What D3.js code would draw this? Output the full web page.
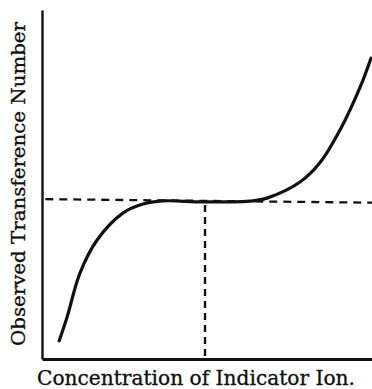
<!DOCTYPE html>
<html>
<head>
<meta charset="utf-8">
<script src="https://cdn.jsdelivr.net/npm/d3@7"></script>
<style>
  html, body { margin: 0; padding: 0; background: #fff; }
  svg { display: block; }
</style>
</head>
<body>
<svg id="chart" width="372" height="389"></svg>
<script>
// Observed transference number vs. concentration of indicator ion (schematic units)
const concentration = [5.2, 7.6, 11.5, 16.7, 24.5, 30.6, 36.7, 48.8, 63.9, 68.2, 78.2, 84.2, 90.3, 96.4, 99.7];
const transference  = [5.2, 12.0, 24.6, 34.1, 41.8, 44.4, 45.3, 45.0, 45.3, 46.1, 50.7, 56.2, 65.6, 77.9, 86.2];

// Reference lines: true transference level and the matching concentration
const levelX = [1, 100];
const levelY = [45.8, 44.8];
const criticalX = [49.4, 49.4];
const criticalY = [44.1, 0];

const xTitle = "Concentration of Indicator Ion.";
const yTitle = "Observed Transference Number";

const svg = d3.select("#chart");
const x = d3.scaleLinear().domain([0, 100]).range([42, 372]);
const y = d3.scaleLinear().domain([0, 100]).range([359, 10]);

const ink = "#111";

// Axes (plain lines, no ticks)
const xAxis = d3.axisBottom(x).tickValues([]).tickSizeOuter(0);
const yAxis = d3.axisLeft(y).tickValues([]).tickSizeOuter(0);
svg.append("g").attr("transform", `translate(0,${y(0)})`).call(xAxis)
  .select(".domain").attr("stroke", ink).attr("stroke-width", 2.8);
svg.append("g").attr("transform", `translate(${x(0)},0)`).call(yAxis)
  .select(".domain").attr("stroke", ink).attr("stroke-width", 2.4);

const line = d3.line().x(d => x(d[0])).y(d => y(d[1]));

// Dashed horizontal level
svg.append("path")
  .datum(d3.zip(levelX, levelY))
  .attr("d", line)
  .attr("fill", "none").attr("stroke", ink)
  .attr("stroke-width", 2.3).attr("stroke-dasharray", "8,6");

// Dashed vertical drop
svg.append("path")
  .datum(d3.zip(criticalX, criticalY))
  .attr("d", line)
  .attr("fill", "none").attr("stroke", ink)
  .attr("stroke-width", 2.4).attr("stroke-dasharray", "7,5");

// Main curve
svg.append("path")
  .datum(d3.zip(concentration, transference))
  .attr("d", line.curve(d3.curveCatmullRom.alpha(0.5)))
  .attr("fill", "none").attr("stroke", ink)
  .attr("stroke-width", 3.2).attr("stroke-linecap", "round");

// Titles
const font = "'DejaVu Serif', 'Liberation Serif', serif";
svg.append("text")
  .attr("x", 37).attr("y", 385)
  .attr("font-family", font).attr("font-size", 20)
  .attr("fill", ink).attr("stroke", ink).attr("stroke-width", 0.35)
  .attr("textLength", 318).attr("lengthAdjust", "spacingAndGlyphs")
  .text(xTitle);

svg.append("text")
  .attr("transform", "translate(25,346) rotate(-90)")
  .attr("font-family", font).attr("font-size", 18.5)
  .attr("fill", ink).attr("stroke", ink).attr("stroke-width", 0.35)
  .attr("textLength", 324).attr("lengthAdjust", "spacingAndGlyphs")
  .text(yTitle);
</script>
</body>
</html>
